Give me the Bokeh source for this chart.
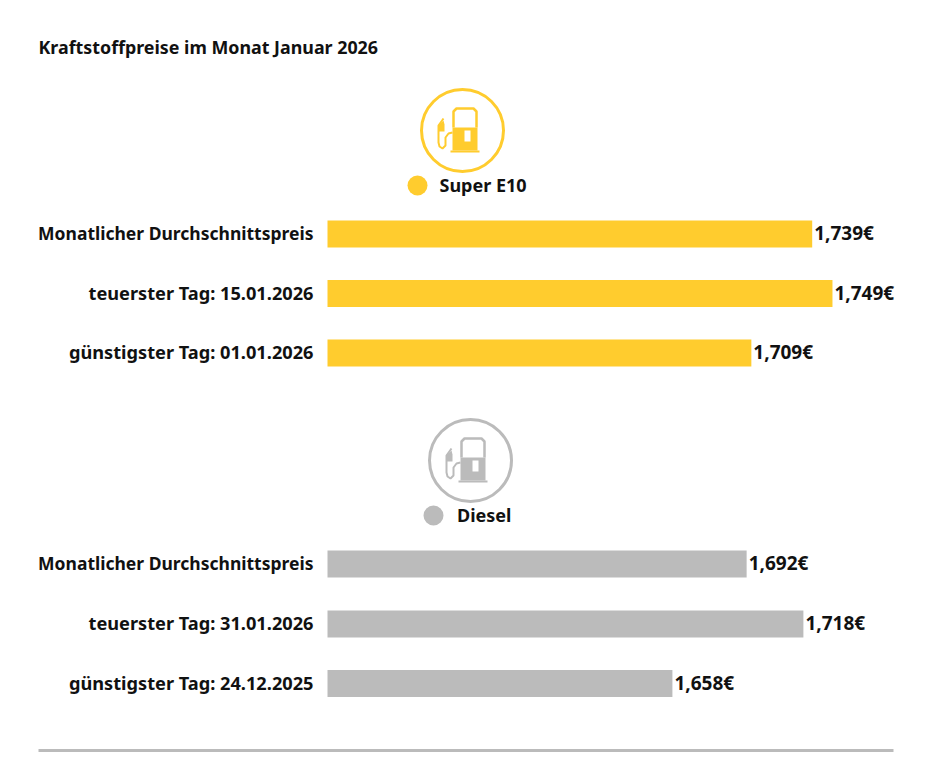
from bokeh.plotting import figure
from bokeh.models import Range1d, ColumnDataSource
from bokeh.core.properties import value
from bokeh.embed import file_html
from bokeh.resources import INLINE

title = "Kraftstoffpreise im Monat Januar 2026"
e10_name = "Super E10"
e10_labels = ["Monatlicher Durchschnittspreis", "teuerster Tag: 15.01.2026", "günstigster Tag: 01.01.2026"]
e10_values = [1.739, 1.749, 1.709]
diesel_name = "Diesel"
diesel_labels = ["Monatlicher Durchschnittspreis", "teuerster Tag: 31.01.2026", "günstigster Tag: 24.12.2025"]
diesel_values = [1.692, 1.718, 1.658]

YELLOW = "#FFCC2E"
GREY = "#BBBBBB"
INK = "#111111"
FONT = value("Noto Sans")
BASE = 1.5
W, H = 930, 760
BAR_LEFT = 327
E10_PX = 2028.0
DIESEL_PX = 2183.0


def price_range(px_per_unit):
    start = BASE - BAR_LEFT / px_per_unit
    return Range1d(start, start + W / px_per_unit)


p = figure(width=W, height=H, output_backend="svg", toolbar_location=None,
           x_range=Range1d(0, W), y_range=Range1d(H, 0),
           min_border=0, outline_line_color=None, background_fill_color="white",
           border_fill_color="white")
p.extra_x_ranges = {"e10": price_range(E10_PX), "diesel": price_range(DIESEL_PX)}
p.axis.visible = False
p.grid.visible = False


def txt(x, y, s, size="18px"):
    p.text(x=[x], y=[y], text=[s], text_font=FONT, text_font_size=size,
           text_font_style="bold", text_color=INK, text_align="left",
           text_baseline="middle")


def icon(cx, cy, color):
    p.circle(x=[cx], y=[cy], radius=41, fill_color=None, line_color=color, line_width=3)
    bx0, bx1 = cx - 10, cx + 15
    top, mid, bot = cy - 22, cy - 3, cy + 20
    p.quad(left=[bx0], right=[bx1], top=[mid], bottom=[bot], fill_color=color, line_color=None)
    xs = [bx0 + 1, bx0 + 1, bx0 + 4, bx1 - 4, bx1 - 1, bx1 - 1]
    ys = [mid, top + 3, top, top, top + 3, mid]
    p.line(x=xs, y=ys, line_color=color, line_width=2.5)
    p.quad(left=[cx + 2], right=[cx + 8], top=[cy], bottom=[cy + 11], fill_color="white", line_color=None)
    p.line(x=[cx - 12, cx + 17], y=[bot + 1, bot + 1], line_color=color, line_width=2)
    hx = [cx - 10, cx - 14, cx - 17, cx - 17, cx - 20, cx - 23, cx - 24, cx - 24, cx - 19]
    hy = [cy + 2, cy + 3, cy + 7, cy + 15, cy + 18, cy + 16, cy + 12, cy - 5, cy - 12]
    p.line(x=hx, y=hy, line_color=color, line_width=2)
    p.patch(x=[cx - 24, cx - 19, cx - 18, cx - 18, cx - 24],
            y=[cy - 5, cy - 10, cy - 6, cy + 1, cy + 1], fill_color=color, line_color=None)


def block(labels, values, color, range_name, centers):
    p.hbar(y=centers, left=[BASE] * 3, right=values, height=27, fill_color=color,
           line_color=None, x_range_name=range_name)
    src = ColumnDataSource(dict(x=[BAR_LEFT - 14] * 3, y=centers, t=labels,
                                s=["17.5px", "18.2px", "18.2px"]))
    p.text(x="x", y="y", text="t", source=src, y_offset=-1, text_font=FONT, text_font_size="s",
           text_font_style="bold", text_color=INK, text_align="right", text_baseline="middle")
    p.text(x=values, y=centers, text=[f"{v:.3f}€".replace(".", ",") for v in values],
           x_offset=2, y_offset=-1, text_font=FONT, text_font_size="19px", text_font_style="bold",
           text_color=INK, text_align="left", text_baseline="middle", x_range_name=range_name)


txt(38, 46, title, "17.85px")

icon(462, 130, YELLOW)
p.circle(x=[417], y=[185], radius=10, fill_color=YELLOW, line_color=None)
txt(439, 184, e10_name)
block(e10_labels, e10_values, YELLOW, "e10", [233.5, 293, 352.5])

icon(470, 460, GREY)
p.circle(x=[433], y=[515], radius=10, fill_color=GREY, line_color=None)
txt(456.5, 514, diesel_name)
block(diesel_labels, diesel_values, GREY, "diesel", [563.5, 623.5, 683])

p.line(x=[38, 893], y=[750, 750], line_color=GREY, line_width=3)

open("out.html", "w").write(file_html(p, INLINE))
